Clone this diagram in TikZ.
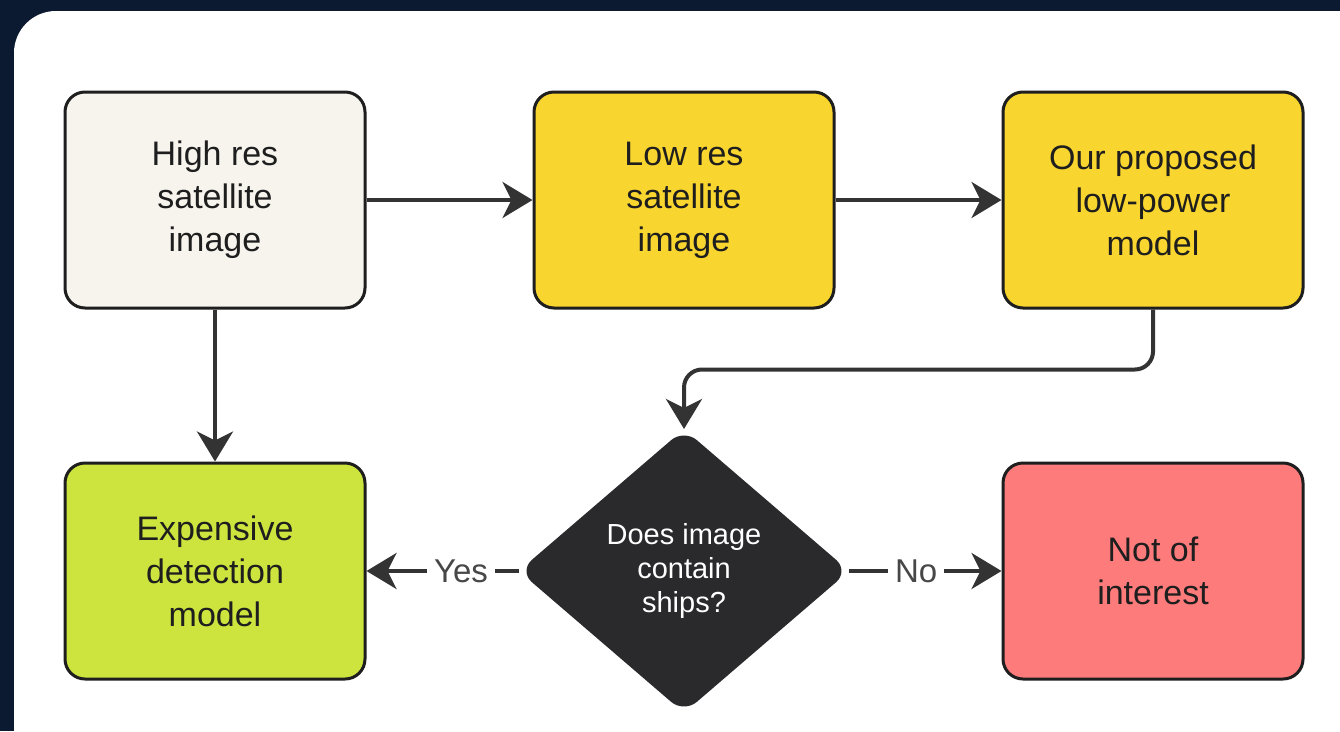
\documentclass[tikz,border=0pt]{standalone}
\usepackage{fontspec}
\setmainfont{Liberation Sans}
\usetikzlibrary{shapes.geometric,arrows.meta}
\definecolor{navy}{HTML}{0B1A30}
\definecolor{ink}{HTML}{1E1E1E}
\definecolor{wire}{HTML}{333333}
\definecolor{cream}{HTML}{F7F4EE}
\definecolor{sun}{HTML}{F8D52F}
\definecolor{lime}{HTML}{CDE43F}
\definecolor{salmon}{HTML}{FD7B7B}
\definecolor{coal}{HTML}{2A2A2C}
\tikzset{
  stepbox/.style={draw=ink, line width=3pt, rounded corners=20pt,
    minimum width=300pt, minimum height=216pt, align=center,
    font=\fontsize{34}{43}\selectfont, text=ink},
  decision/.style={diamond, fill=coal, draw=coal, line width=2pt,
    rounded corners=16pt, minimum width=328pt, minimum height=282pt,
    inner sep=0pt, align=center, text=white,
    font=\fontsize{29}{34}\selectfont},
  flow/.style={draw=wire, line width=4pt,
    -{Stealth[length=30pt, width=36pt, inset=9pt]}},
  tag/.style={fill=white, text=wire!90, inner sep=7pt,
    font=\fontsize{33}{36}\selectfont}
}
\begin{document}
\begin{tikzpicture}[x=1pt, y=-1pt]
\useasboundingbox (0,0) rectangle (1340,731);
\fill[navy] (0,0) rectangle (1340,731);
\fill[white, rounded corners=42pt] (14,11) rectangle (1400,800);

\node[stepbox, fill=cream] (hires) at (215,200) {High res\\satellite\\image};
\node[stepbox, fill=sun] (lores) at (684,200) {Low res\\satellite\\image};
\node[stepbox, fill=sun] (model) at (1153,200) {Our proposed\\low-power\\model};
\node[stepbox, fill=lime] (expensive) at (215,571) {Expensive\\detection\\model};
\node[stepbox, fill=salmon] (skip) at (1153,571) {Not of\\interest};
\node[decision] (ships) at (684,571) {Does image\\contain\\ships?};

\draw[flow] (hires) -- (lores);
\draw[flow] (lores) -- (model);
\draw[flow] (hires) -- (expensive);
\draw[flow, rounded corners=18pt] (model.south) -- ++(0,60) -| (ships.north);
\draw[flow] (ships) -- node[tag, pos=0.38] {Yes} (expensive);
\draw[flow] (ships) -- node[tag, pos=0.44] {No} (skip);
\end{tikzpicture}
\end{document}
